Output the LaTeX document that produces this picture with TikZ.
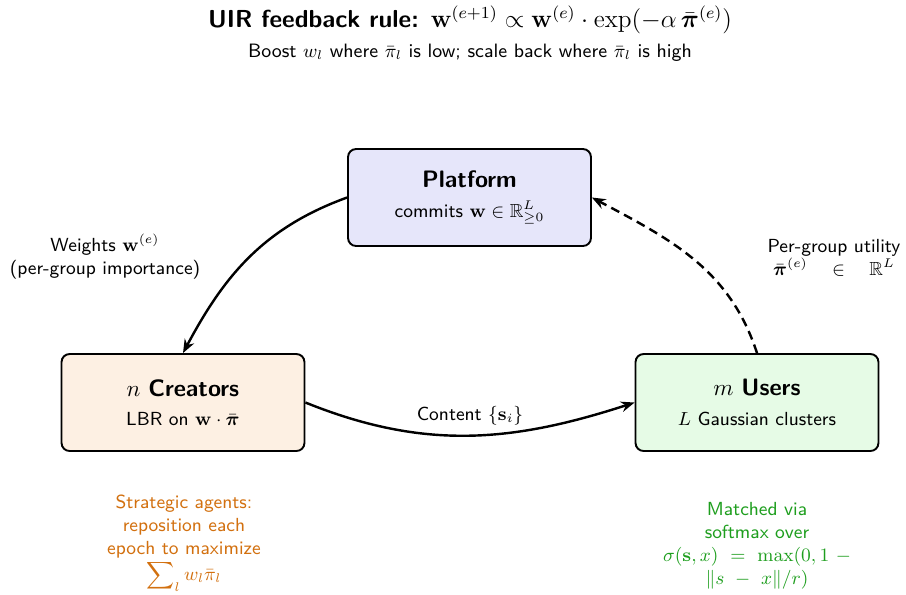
\documentclass[tikz,border=0pt]{standalone}
\usepackage{amsmath,amssymb,bm}
\renewcommand\familydefault{\sfdefault}
\usetikzlibrary{arrows.meta}
\definecolor{platfill}{HTML}{E6E6FA}
\definecolor{creafill}{HTML}{FDF0E3}
\definecolor{userfill}{HTML}{E6FBE6}
\definecolor{orangetxt}{HTML}{D2700F}
\definecolor{greentxt}{HTML}{1E9E1E}
\tikzset{
  agentbox/.style={draw=black, line width=0.9pt, rounded corners=3.8pt, minimum width=115.5pt, minimum height=46.1pt, align=center, inner sep=2pt},
  flow/.style={-{Stealth[length=6.5pt,width=5pt]}, line width=1.15pt},
  lbl/.style={align=center, font=\small},
}
\newcommand{\bxtitle}{\fontsize{11.3}{13}\selectfont}
\newcommand{\bxsub}{\fontsize{9}{11}\selectfont}
\begin{document}
\begin{tikzpicture}[x=0.4755pt,y=-0.4755pt]
\useasboundingbox (0,0) rectangle (906,594);
\node (title) at (470,20) {\fontsize{11.7}{14}\selectfont\bfseries UIR feedback rule: $\mathbf{w}^{(e+1)} \propto \mathbf{w}^{(e)}\cdot\exp(-\alpha\,\bar{\bm\pi}^{(e)})$};
\node[font=\fontsize{9.2}{11}\selectfont] (sub) at (470,52.5) {Boost $w_l$ where $\bar\pi_l$ is low; scale back where $\bar\pi_l$ is high};

\node[agentbox, fill=platfill] (plat) at (469.5,197.5) {{\bxtitle\bfseries Platform}\\[2pt] {\bxsub commits $\mathbf{w}\in\mathbb{R}^L_{\geq 0}$}};
\node[agentbox, fill=creafill] (crea) at (183,402.5) {{\bxtitle $n$ \bfseries Creators}\\[2pt] {\bxsub LBR on $\mathbf{w}\cdot\bar{\bm\pi}$}};
\node[agentbox, fill=userfill] (user) at (757,402.5) {{\bxtitle $m$ \bfseries Users}\\[2pt] {\bxsub $L$ Gaussian clusters}};

\draw[flow] (plat.west) to[out=200,in=62] (crea.north);
\draw[flow, dash pattern=on 4.3pt off 2.6pt] (user.north) to[out=108,in=-28] (plat.east);
\draw[flow] (crea.east) to[out=-22,in=198] (user.west);

\node[lbl] (wl) at (105,257) {Weights $\mathbf{w}^{(e)}$\\(per-group importance)};
\node[lbl] (ul) at (834,258) {Per-group utility\\$\bar{\bm\pi}^{(e)}\quad\in\quad\mathbb{R}^L$};
\node[lbl] (cl) at (470,416) {Content $\{\mathbf{s}_i\}$};

\node[lbl, text=orangetxt] (strat) at (184,543) {Strategic agents:\\reposition each\\epoch to maximize\\$\displaystyle\sum\nolimits_l w_l\bar\pi_l$};
\node[lbl, text=greentxt] (match) at (757,546) {Matched via\\softmax over\\$\sigma(\mathbf{s},x)\ =\ \max(0,1\ -$\\$\|s\ -\ x\|/r)$};
\end{tikzpicture}
\end{document}
